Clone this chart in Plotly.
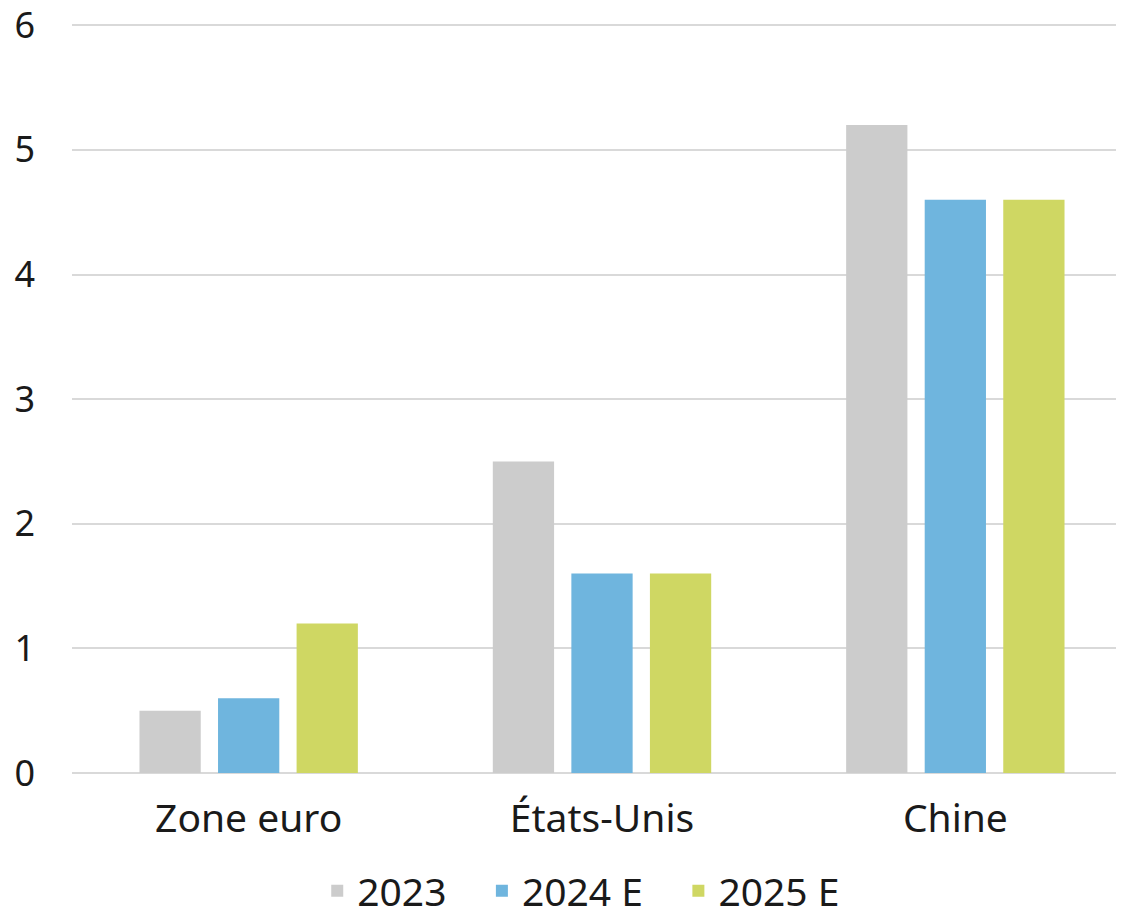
import plotly.graph_objects as go

categories = ["Zone euro", "États-Unis", "Chine"]
series_names = ["2023", "2024 E", "2025 E"]
values_2023 = [0.5, 2.5, 5.2]
values_2024 = [0.6, 1.6, 4.6]
values_2025 = [1.2, 1.6, 4.6]
colours = ["#CCCCCC", "#6FB5DE", "#CFD763"]

# trailing non-breaking spaces widen the gap between legend entries
pad = "\u00a0\u00a0\u00a0"

fig = go.Figure()
for i, (name, vals, col) in enumerate(zip(series_names, [values_2023, values_2024, values_2025], colours)):
    label = name + pad if i < len(series_names) - 1 else name
    fig.add_trace(go.Bar(x=categories, y=vals, name=label, marker_color=col, marker_line_width=0))

# the page body has an 8px margin, so margins are offset by it
fig.update_layout(
    width=1124,
    height=915,
    margin=dict(l=64, r=0, t=16, b=150, autoexpand=False),
    plot_bgcolor="white",
    paper_bgcolor="white",
    font=dict(family="Noto Sans", size=39, color="#1a1a1a"),
    barmode="group",
    bargap=0.333,
    bargroupgap=0.22,
    legend=dict(
        orientation="h",
        xref="container",
        yref="container",
        x=0.51,
        xanchor="center",
        y=-0.03,
        yanchor="bottom",
        font=dict(size=39),
        itemwidth=30,
    ),
)
fig.update_yaxes(
    range=[0, 6.01],
    tickvals=[0, 1, 2, 3, 4, 5, 6],
    tickfont=dict(size=36),
    ticklabeloverflow="allow",
    showgrid=True,
    gridcolor="#d9d9d9",
    gridwidth=2,
    zeroline=True,
    zerolinecolor="#d9d9d9",
    zerolinewidth=2,
    ticklabelstandoff=36,
    showline=False,
    automargin=False,
)
fig.update_xaxes(showgrid=False, showline=False, ticklabelstandoff=19, automargin=False)

fig.write_html("out.html")
